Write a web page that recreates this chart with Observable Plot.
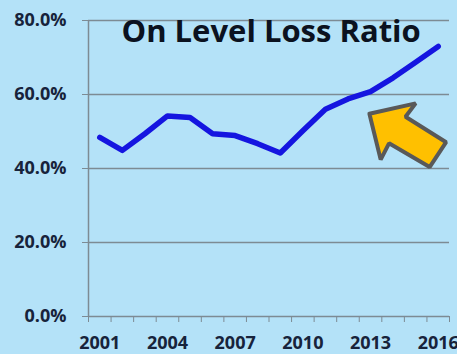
<!DOCTYPE html>
<html>
<head>
<meta charset="utf-8">
<script src="https://cdn.jsdelivr.net/npm/d3@7"></script>
<script src="https://cdn.jsdelivr.net/npm/@observablehq/plot@0.6"></script>
<style>
  html, body { margin: 0; padding: 0; background: #b4e2f8; }
  #chart svg { display: block; background: #b4e2f8; }
</style>
</head>
<body>
<div id="chart"></div>
<script>
const years = [2001, 2002, 2003, 2004, 2005, 2006, 2007, 2008, 2009, 2010, 2011, 2012, 2013, 2014, 2015, 2016];
const lossRatio = [48.4, 44.9, 49.4, 54.2, 53.8, 49.4, 48.9, 46.7, 44.2, 50.2, 56.0, 58.8, 60.8, 64.5, 68.7, 73.0];
const yTicks = [0, 20, 40, 60, 80];
const xLabelYears = [2001, 2004, 2007, 2010, 2013, 2016];
const title = "On Level Loss Ratio";
// annotation arrow outline, in data units (year, percent)
const arrowX = [2012.95, 2015.0, 2014.55, 2016.35, 2015.62, 2013.82, 2013.45, 2012.95];
const arrowY = [54.8, 57.6, 54.0, 47.1, 40.4, 46.8, 42.4, 54.8];

const data = years.map((y, i) => ({year: y, value: lossRatio[i]}));
const arrow = arrowX.map((x, i) => ({x, y: arrowY[i]}));
const boundaries = d3.range(years[0] - 0.5, years[years.length - 1] + 1, 1);
const grid = "#7d8b94";
const textColor = "#17233b";
const font = "'Open Sans', Lato, sans-serif";

const chart = Plot.plot({
  width: 457,
  height: 354,
  marginLeft: 88,
  marginRight: 8,
  marginTop: 20,
  marginBottom: 38,
  style: {background: "#b4e2f8", fontFamily: font},
  x: {domain: [years[0] - 0.5, years[years.length - 1] + 0.5]},
  y: {domain: [0, 80]},
  marks: [
    Plot.ruleY(yTicks, {x1: years[0] - 0.5, x2: years[years.length - 1] + 0.5, stroke: grid, strokeWidth: 1.5}),
    Plot.ruleX([years[0] - 0.5], {y1: 0, y2: 80, stroke: grid, strokeWidth: 1.5}),
    Plot.axisY({ticks: yTicks, tickSize: 6, tickPadding: 16, stroke: grid, fill: textColor,
      tickFormat: d => d.toFixed(1) + "%", fontSize: 18, fontWeight: "bold", label: null}),
    Plot.axisX({ticks: boundaries, tickSize: 6, tickFormat: () => "", stroke: grid, label: null}),
    Plot.axisX({ticks: xLabelYears, tickSize: 0, tickPadding: 20, tickFormat: d => String(d),
      fill: textColor, fontSize: 18, fontWeight: "bold", label: null}),
    Plot.text([title], {frameAnchor: "top-left", dx: 33, dy: 21, lineAnchor: "bottom", textAnchor: "start",
      fontSize: 31, fontWeight: "bold", fill: "#0b1220", fontFamily: font}),
    Plot.line(data, {x: "year", y: "value", stroke: "#1515e0", strokeWidth: 5.5, strokeLinejoin: "round", strokeLinecap: "round"}),
    Plot.line(arrow, {x: "x", y: "y", fill: "#ffc000", stroke: "#595959", strokeWidth: 4, strokeLinejoin: "miter"})
  ]
});
document.getElementById("chart").appendChild(chart);
</script>
</body>
</html>
